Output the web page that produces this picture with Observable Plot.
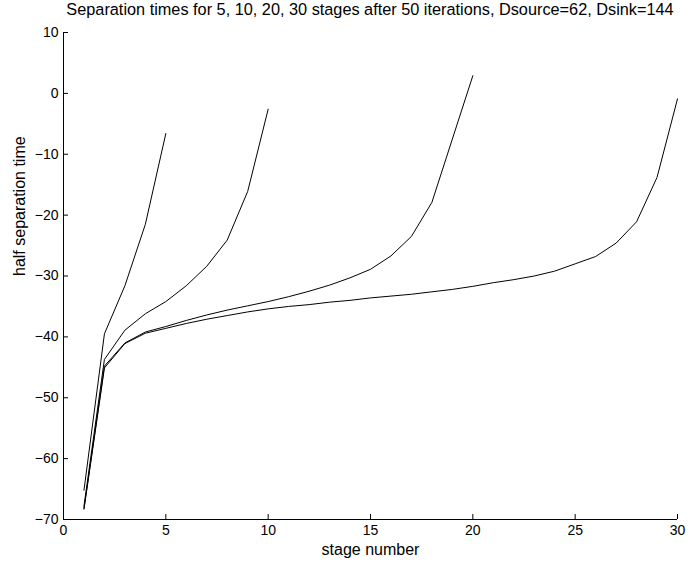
<!DOCTYPE html>
<html>
<head>
<meta charset="utf-8">
<script src="https://cdn.jsdelivr.net/npm/d3@7"></script>
<script src="https://cdn.jsdelivr.net/npm/@observablehq/plot@0.6"></script>
<style>
  html, body { margin: 0; padding: 0; background: #fff; }
  #title { height: 22px; line-height: 24px; font: 16.3px "Liberation Sans", Arial, sans-serif; color: #000;
           padding-left: 63px; width: 614px; text-align: center; white-space: nowrap; overflow: visible; }
</style>
</head>
<body>
<div id="title">Separation times for 5, 10, 20, 30 stages after 50 iterations, Dsource=62, Dsink=144</div>
<div id="chart"></div>
<script>
const titleText = "Separation times for 5, 10, 20, 30 stages after 50 iterations, Dsource=62, Dsink=144";
const xLabel = "stage number";
const yLabel = "half separation time";
const xTicks = [0, 5, 10, 15, 20, 25, 30];
const yTicks = [10, 0, -10, -20, -30, -40, -50, -60, -70];
const xDomain = [0, 30];
const yDomain = [-70, 10];

const stages5 = [-65.2, -39.5, -31.6, -21.5, -6.6];
const stages10 = [-67.8, -43.7, -38.9, -36.2, -34.2, -31.6, -28.4, -24.1, -16.1, -2.6];
const stages20 = [-68.2, -44.8, -41.0, -39.2, -38.3, -37.3, -36.4, -35.6, -34.9, -34.2,
                  -33.4, -32.5, -31.5, -30.3, -28.9, -26.7, -23.5, -17.9, -7.5, 2.9];
const stages30 = [-68.3, -45.1, -41.1, -39.4, -38.6, -37.8, -37.1, -36.5, -35.9, -35.4,
                  -35.0, -34.7, -34.3, -34.0, -33.6, -33.3, -33.0, -32.6, -32.2, -31.7,
                  -31.1, -30.6, -30.0, -29.2, -28.0, -26.8, -24.6, -21.1, -13.8, -0.9];

const series = [stages5, stages10, stages20, stages30];
const data = series.flatMap((vals, s) => vals.map((v, i) => ({series: s, stage: i + 1, value: v})));

const font = '"Liberation Sans", Arial, sans-serif';
const minus = d => String(d).replace("-", "\u2212");
const chart = Plot.plot({
  width: 700,
  height: 539,
  marginLeft: 63,
  marginRight: 23,
  marginTop: 10,
  marginBottom: 42,
  style: {fontFamily: font, fontSize: "14px", color: "#000", background: "#fff"},
  x: {domain: xDomain, ticks: xTicks, label: null},
  y: {domain: yDomain, ticks: yTicks, label: null},
  marks: [
    Plot.ruleX([xDomain[0]], {stroke: "#000"}),
    Plot.ruleY([yDomain[0]], {stroke: "#000"}),
    Plot.axisX({ticks: xTicks, tickSize: -5, tickPadding: 11, label: null, tickFormat: minus}),
    Plot.axisY({ticks: yTicks, tickSize: -5, tickPadding: 10, label: null, tickFormat: minus}),
    Plot.line(data, {x: "stage", y: "value", z: "series", stroke: "#000", strokeWidth: 1}),
    Plot.text([xLabel], {frameAnchor: "bottom", dy: 35, text: d => d, fontSize: 16}),
    Plot.text([yLabel], {frameAnchor: "left", dx: -44, rotate: -90, text: d => d, fontSize: 16})
  ]
});
document.getElementById("chart").appendChild(chart);
</script>
</body>
</html>
